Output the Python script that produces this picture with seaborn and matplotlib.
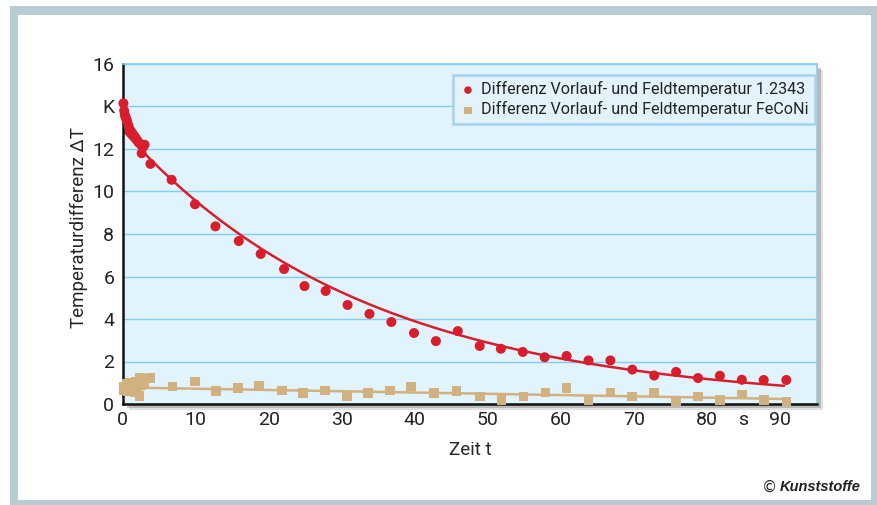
import numpy as np
import seaborn as sns
import matplotlib.pyplot as plt
from matplotlib.patches import Rectangle

# Messwerte Werkzeugstahl 1.2343 (rot)
t_stahl = [0.1, 0.2, 0.3, 0.4, 0.5, 0.6, 0.8, 1.0, 1.2, 1.4, 1.6, 1.8, 2.0, 2.2, 2.5, 2.8, 3.0, 2.6,
           3.8, 6.7, 9.9, 12.7, 15.9, 18.9, 22.1, 24.9, 27.8, 30.8, 33.8, 36.8, 39.9, 42.9,
           45.9, 48.9, 51.8, 54.8, 57.8, 60.8, 63.8, 66.8, 69.8, 72.8, 75.8, 78.8, 81.8,
           84.8, 87.8, 90.9]
dT_stahl = [14.15, 13.8, 13.6, 13.5, 13.4, 13.3, 13.1, 12.9, 12.8, 12.7, 12.6, 12.5, 12.4, 12.3,
            12.2, 12.1, 12.2, 11.8,
            11.3, 10.55, 9.4, 8.36, 7.67, 7.06, 6.35, 5.55, 5.32, 4.66, 4.24, 3.86, 3.34, 2.96,
            3.43, 2.73, 2.6, 2.45, 2.2, 2.26, 2.05, 2.05, 1.62, 1.34, 1.51, 1.22, 1.33,
            1.14, 1.13, 1.13]

# Messwerte FeCoNi (beige)
t_feconi = [0.1, 0.2, 0.4, 0.5, 0.7, 0.9, 1.0, 1.2, 1.4, 1.6, 1.8, 2.0, 2.3, 2.4, 2.6, 2.8, 3.0,
            3.8, 6.8, 9.9, 12.8, 15.8, 18.7, 21.8, 24.7, 27.7, 30.7, 33.6, 36.6, 39.5, 42.6,
            45.7, 48.9, 51.9, 54.9, 57.9, 60.8, 63.8, 66.8, 69.8, 72.8, 75.8, 78.8, 81.8,
            84.8, 87.8, 90.9]
dT_feconi = [0.65, 0.8, 0.7, 0.95, 0.6, 0.85, 1.0, 0.75, 0.9, 0.55, 1.05, 0.8, 0.38, 1.22, 0.9,
             1.2, 0.95,
             1.22, 0.83, 1.05, 0.61, 0.74, 0.86, 0.64, 0.53, 0.64, 0.36, 0.53, 0.64, 0.83, 0.53,
             0.62, 0.35, 0.2, 0.35, 0.55, 0.74, 0.2, 0.55, 0.35, 0.55, 0.11, 0.35, 0.2,
             0.45, 0.2, 0.11]

# Ausgleichskurven (Parameter)
stahl_fit_a = 12.9
stahl_fit_tau = 33.4
feconi_fit_b0 = 0.78
feconi_fit_b1 = -0.006
fit_t_end = 90.6

x_ticks = [0, 10, 20, 30, 40, 50, 60, 70, 80, 85, 90]
x_ticklabels = ['0', '10', '20', '30', '40', '50', '60', '70', '80', 's', '90']
y_ticks = [0, 2, 4, 6, 8, 10, 12, 14, 16]
y_ticklabels = ['0', '2', '4', '6', '8', '10', '12', 'K', '16']

label_stahl = "Differenz Vorlauf- und Feldtemperatur 1.2343"
label_feconi = "Differenz Vorlauf- und Feldtemperatur FeCoNi"

red = '#d81e2c'
tan = '#d2b180'
grid_blue = '#7fcdf0'

sns.set_style("white")
plt.rcParams['font.family'] = ['Roboto', 'DejaVu Sans']
plt.rcParams['text.color'] = '#222222'
plt.rcParams['xtick.color'] = '#222222'
plt.rcParams['ytick.color'] = '#222222'

W, H = 878, 505
fig = plt.figure(figsize=(W / 100, H / 100), dpi=100)

# Rahmen
fig.patches.append(Rectangle((10 / W, 0), 1, 499 / H, transform=fig.transFigure,
                             facecolor='#b9cbd3', edgecolor='none', zorder=-10))
fig.patches.append(Rectangle((18 / W, 5 / H), (871 - 18) / W, (490 - 5) / H,
                             transform=fig.transFigure, facecolor='white',
                             edgecolor='none', zorder=-9))

ax_l, ax_r, ax_t, ax_b = 122.7, 817, 64, 404
ax = fig.add_axes([ax_l / W, (H - ax_b) / H, (ax_r - ax_l) / W, (ax_b - ax_t) / H])

# Schatten
for off, a in [(6, 0.25), (4, 0.45)]:
    fig.patches.append(Rectangle(((ax_l + off) / W, (H - ax_b - off) / H),
                                 (ax_r - ax_l) / W, (ax_b - ax_t) / H,
                                 transform=fig.transFigure, facecolor='#8a8a8a',
                                 alpha=a, edgecolor='none', zorder=-5))

ax.set_facecolor('#e1f3fc')

fit_t = np.linspace(0, fit_t_end, 200)
sns.lineplot(x=fit_t, y=stahl_fit_a * np.exp(-fit_t / stahl_fit_tau), color=red, lw=1.8, ax=ax)
sns.lineplot(x=fit_t, y=feconi_fit_b0 + feconi_fit_b1 * fit_t, color=tan, lw=1.8, ax=ax)

sns.scatterplot(x=t_stahl, y=dT_stahl, color=red, marker='o', s=52, edgecolor='none',
                label=label_stahl, ax=ax, zorder=4, clip_on=False)
sns.scatterplot(x=t_feconi, y=dT_feconi, color=tan, marker='s', s=48, edgecolor='none',
                label=label_feconi, ax=ax, zorder=3, clip_on=False)

ax.set_xlim(0, 95.1)
ax.set_ylim(0, 16)
ax.set_xticks(x_ticks)
ax.set_xticklabels(x_ticklabels)
ax.set_yticks(y_ticks)
ax.set_yticklabels(y_ticklabels)
ax.xaxis.get_major_ticks()[x_ticks.index(85)].tick1line.set_visible(False)
ax.tick_params(axis='x', direction='in', length=6, width=1, color=grid_blue, pad=5, labelsize=14)
ax.tick_params(axis='y', length=0, pad=6, labelsize=14)

ax.yaxis.grid(True, color=grid_blue, lw=1.0)
ax.set_axisbelow(True)

ax.spines['left'].set_color('#111111')
ax.spines['left'].set_linewidth(1.8)
ax.spines['bottom'].set_color('#111111')
ax.spines['bottom'].set_linewidth(1.8)
ax.spines['top'].set_color(grid_blue)
ax.spines['top'].set_linewidth(1.2)
ax.spines['right'].set_color('#9cc6dc')
ax.spines['right'].set_linewidth(1.2)

ax.set_xlabel("Zeit t", fontsize=13.5, labelpad=9)
ax.set_ylabel("Temperaturdifferenz \u0394T", fontsize=13.5)
ax.yaxis.set_label_coords(-0.05, 0.52)

leg = ax.legend(loc='upper right', bbox_to_anchor=(0.997, 0.968), borderaxespad=0,
                frameon=True, fancybox=False, facecolor='#e3f3fc', edgecolor='#a6d3ef',
                framealpha=1, fontsize=11.6, handletextpad=0.3, borderpad=0.4,
                labelspacing=0.25, markerscale=0.75, handlelength=1.0)
leg.get_frame().set_linewidth(1.8)

fig.text(770 / W, (H - 487) / H, '\u00a9', ha='center', va='center', fontsize=11,
         family=['DejaVu Sans'])
fig.text(861 / W, (H - 487) / H, 'Kunststoffe', ha='right', va='center', fontsize=10.5,
         weight='bold', style='italic', family=['Liberation Sans'])

fig.savefig("out.png", dpi=100)
